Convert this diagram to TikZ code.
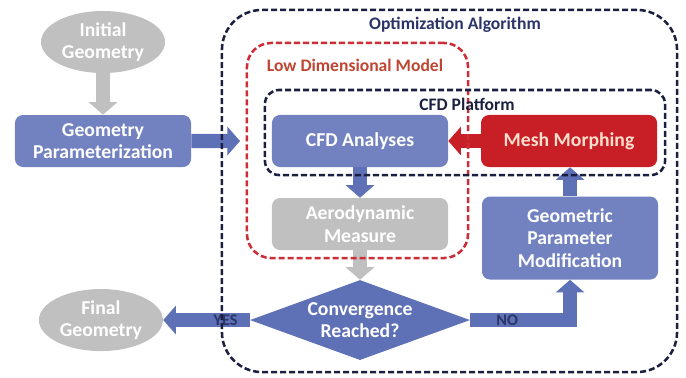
\documentclass[tikz,border=0pt]{standalone}
\usepackage{fontspec}
\setmainfont{Carlito}
\usetikzlibrary{shapes.geometric,positioning,arrows.meta}
\definecolor{boxblue}{RGB}{114,130,192}
\definecolor{arrowblue}{RGB}{94,112,182}
\definecolor{boxgray}{RGB}{192,192,192}
\definecolor{meshred}{RGB}{200,30,38}
\definecolor{meshtext}{RGB}{255,222,205}
\definecolor{framenavy}{RGB}{28,32,64}
\definecolor{titlenavy}{RGB}{42,52,102}
\definecolor{framered}{RGB}{205,45,55}
\definecolor{titlered}{RGB}{190,70,50}
\tikzstyle{blueBox}=[rectangle, rounded corners=0.2cm, minimum width=4.4cm, minimum height=1.3cm, fill=boxblue, text=white, font=\fontsize{14}{16}\selectfont\bfseries, align=center, inner sep=0pt]
\tikzstyle{grayBox}=[blueBox, fill=boxgray]
\tikzstyle{redBox}=[blueBox, fill=meshred, text=meshtext]
\tikzstyle{grayEllipse}=[ellipse, minimum width=3.1cm, minimum height=1.55cm, fill=boxgray, text=white, font=\fontsize{14}{16}\selectfont\bfseries, align=center, inner sep=0pt]
\tikzstyle{decision}=[diamond, aspect=2.75, minimum width=5.5cm, minimum height=2cm, fill=arrowblue, text=white, font=\fontsize{14}{16}\selectfont\bfseries, align=center, inner sep=0pt]
\tikzstyle{frameNavy}=[rectangle, draw=framenavy, line width=1.8pt, dash pattern=on 4.3pt off 2.1pt, inner sep=0pt]
\tikzstyle{frameRed}=[frameNavy, draw=framered]
\tikzstyle{frameTitle}=[font=\fontsize{12.5}{14}\selectfont\bfseries, text=titlenavy, inner sep=0pt]
\tikzstyle{bigArrow}=[line width=10pt, -{Triangle[width=20pt,length=9pt]}]
\tikzstyle{answer}=[font=\fontsize{11.5}{12}\selectfont\bfseries, text=titlenavy, inner sep=0pt]

\begin{document}
\begin{tikzpicture}[x=0.025cm, y=-0.025cm]

\useasboundingbox[fill=white] (0,0) rectangle (686,377);

\node[grayEllipse](initGeom) at (103,42){Initial\\Geometry};
\node[blueBox](geomParam)[below of = initGeom, yshift = -1.475cm]{Geometry\\Parameterization};
\node[blueBox](cfdAnalyses) at (360,141){CFD Analyses};
\node[redBox](meshMorphing)[right of = cfdAnalyses, xshift = 4.225cm]{Mesh Morphing};
\node[grayBox](aeroMeasure)[below of = cfdAnalyses, yshift = -1.075cm]{Aerodynamic\\Measure};
\node[decision](convergence)[below of = aeroMeasure, yshift = -1.4cm]{Convergence\\Reached?};
\node[blueBox, minimum height=2.075cm](geomMod)[below of = meshMorphing, xshift = 0.025cm, yshift = -1.425cm]{Geometric\\Parameter\\Modification};
\node[grayEllipse](finalGeom)[left of = convergence, xshift = -5.475cm]{Final\\Geometry};
\coordinate (paramIn) at (240,141);

\draw[bigArrow, draw=boxgray] (initGeom.south) -- (geomParam.north);
\draw[bigArrow, draw=arrowblue] (geomParam.east) -- (paramIn);
\draw[bigArrow, draw=meshred] (meshMorphing.west) -- (cfdAnalyses.east);
\draw[bigArrow, draw=arrowblue] (cfdAnalyses.south) -- (aeroMeasure.north);
\draw[bigArrow, draw=boxgray] (aeroMeasure.south) -- (convergence.north);
\draw[bigArrow, draw=arrowblue] (convergence.west) -- (finalGeom.east) node[answer, pos=0.28]{YES};
\draw[bigArrow, draw=arrowblue] (convergence.east) -| (geomMod.south) node[answer, pos=0.185]{NO};
\draw[bigArrow, draw=arrowblue] (geomMod.north) -- (geomMod.north |- meshMorphing.south);

% dashed frames
\node[frameNavy, rounded corners=1cm, minimum width=11.375cm, minimum height=9.05cm](optAlgo) at (449.5,191){};
\node[frameRed, rounded corners=0.6cm, minimum width=5.525cm, minimum height=5.375cm](lowDim) at (357.5,150.5){};
\node[frameNavy, rounded corners=0.35cm, minimum width=10cm, minimum height=2.125cm](cfdPlatform) at (465,132.5){};
\node[frameTitle](optAlgoTitle) at (455,25){Optimization Algorithm};
\node[frameTitle, text=titlered](lowDimTitle) at (355,65){Low Dimensional Model};
\node[frameTitle, text=framenavy](cfdPlatformTitle) at (467,104){CFD Platform};

\end{tikzpicture}
\end{document}
